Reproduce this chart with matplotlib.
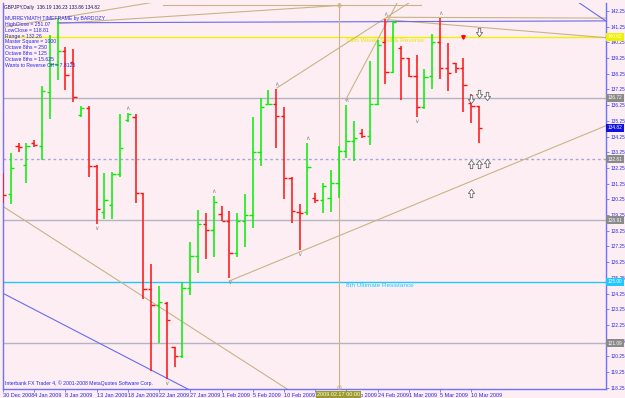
"""GBPJPY daily bar chart with Murrey Math levels (MT4 style)."""

import matplotlib

matplotlib.use("Agg")
import matplotlib.pyplot as plt
from matplotlib.path import Path

# ---- data -------------------------------------------------------------
BAR_OPEN = [131.49, 130.60, 133.66, 132.45, 133.85, 133.66, 137.10, 138.90, 139.70, 139.00,
            135.63, 136.08, 132.38, 129.46, 129.90, 131.87, 135.31, 135.50, 130.66, 124.55,
            123.54, 123.66, 120.86, 120.29, 124.62, 126.66, 128.69, 128.31, 129.33, 128.88,
            126.85, 128.88, 129.26, 133.27, 136.30, 136.33, 135.57, 131.62, 129.46, 129.46,
            130.35, 130.22, 130.35, 131.30, 133.34, 133.98, 134.48, 134.29, 136.33, 140.28,
            138.37, 139.89, 139.26, 138.11, 136.14, 138.11, 140.28, 138.62, 138.94, 138.62,
            136.39, 136.19]
BAR_HIGH = [131.94, 133.21, 133.85, 133.85, 134.04, 137.48, 140.72, 141.80, 139.96, 139.83,
            136.20, 136.20, 132.45, 131.94, 132.00, 135.69, 135.76, 135.69, 130.66, 126.15,
            124.75, 123.73, 120.86, 125.00, 127.55, 129.58, 129.39, 130.47, 129.84, 129.52,
            129.39, 130.60, 135.50, 136.71, 137.22, 137.29, 136.14, 131.68, 129.96, 133.85,
            130.66, 131.30, 132.13, 133.66, 136.27, 135.25, 134.74, 139.07, 140.40, 141.74,
            141.61, 140.02, 139.26, 139.45, 138.56, 140.79, 141.80, 140.21, 138.94, 139.26,
            136.97, 136.23]
BAR_LOW = [130.03, 129.96, 133.27, 131.30, 133.59, 132.77, 135.38, 137.86, 137.22, 136.46,
           135.50, 131.68, 128.69, 129.01, 129.01, 131.68, 135.18, 130.03, 123.92, 119.34,
           121.12, 118.83, 119.59, 120.16, 124.17, 125.57, 126.46, 126.59, 128.88, 125.25,
           126.59, 127.23, 128.43, 132.38, 136.30, 133.53, 130.28, 128.76, 127.04, 129.26,
           130.03, 129.39, 129.46, 130.35, 132.89, 132.70, 134.17, 133.72, 136.27, 137.60,
           138.30, 136.58, 138.05, 135.50, 136.01, 137.29, 137.92, 137.16, 138.30, 135.82,
           135.12, 133.86]
BAR_CLOSE = [130.54, 132.26, 133.59, 133.66, 133.72, 137.16, 138.90, 139.70, 138.18, 136.78,
             136.08, 132.38, 129.65, 130.22, 131.87, 133.53, 135.69, 130.66, 124.55, 123.54,
             123.73, 122.58, 120.29, 124.62, 126.66, 128.69, 128.31, 130.09, 128.88, 126.85,
             128.88, 129.26, 133.27, 136.14, 136.35, 135.57, 131.62, 129.52, 129.40, 132.32,
             130.22, 131.11, 131.30, 133.34, 133.98, 134.17, 134.29, 136.33, 140.09, 138.37,
             141.55, 139.26, 138.11, 136.14, 138.05, 140.28, 138.62, 138.30, 138.62, 137.54,
             136.20, 134.82]

DATE_TICKS = [0, 4, 8, 12, 16, 20, 24, 28, 32, 36, 40, 44, 48, 52, 56, 60]
DATE_LABELS = ["30 Dec 2008", "4 Jan 2009", "8 Jan 2009", "13 Jan 2009", "18 Jan 2009",
               "22 Jan 2009", "27 Jan 2009", "1 Feb 2009", "5 Feb 2009", "10 Feb 2009",
               "15 Feb 2009", "19 Feb 2009", "24 Feb 2009", "1 Mar 2009", "5 Mar 2009",
               "10 Mar 2009"]
PRICE_TICKS = [118.25, 119.25, 120.25, 121.25, 122.25, 123.25, 124.25, 125.25, 126.25,
               127.25, 128.25, 129.25, 130.25, 131.25, 132.25, 133.25, 134.25, 135.25,
               136.25, 137.25, 138.25, 139.25, 140.25, 141.25, 142.25]

# Murrey math levels: price, line colour, label box colour
MURREY_LEVELS = [140.62, 136.72, 132.81, 128.91, 125.00, 121.09]
MURREY_COLORS = ["#f0f000", "#b4b4c4", "#a8a8d8", "#b4b4c4", "#1ec8ff", "#b4b4c4"]
MURREY_STYLES = ["-", "-", (0, (2, 2)), "-", "-", "-"]
MURREY_BOX = ["#f0f000", "#8a8a8a", "#8a8a8a", "#8a8a8a", "#1ec8ff", "#8a8a8a"]

FRACTAL_UP = [16, 27, 35, 39, 44, 49, 56]
FRACTAL_DOWN = [12, 21, 29, 38, 53]

ARROW_DOWN_X = [61, 60, 61, 62]
ARROW_DOWN_Y = [140.91, 136.65, 136.97, 136.84]
ARROW_UP_X = [60, 61, 62, 60]
ARROW_UP_Y = [132.51, 132.51, 132.57, 130.66]

# trend / gann lines as (x0, y0, x1, y1) in bar index / price
TAN_LINES = [
    (0.0, 129.80, 38.5, 117.50),
    (29.0, 125.05, 77.3, 134.95),
    (35.1, 137.35, 52.6, 142.95),
    (43.9, 136.58, 50.7, 142.95),
    (-0.2, 141.20, 21.0, 142.95),
    (7.0, 141.45, 43.0, 142.60),
    (20.5, 142.62, 53.5, 142.62),
    (49.2, 141.85, 77.3, 141.80),
    (49.2, 141.70, 77.3, 140.55),
]
BLUE_LINES = [
    (7.0, 141.50, 77.3, 141.62),
    (73.3, 142.95, 77.3, 141.60),
    (0.1, 124.24, 25.5, 117.70),
]
VLINE_X = 43

BULL = "#00f000"
BEAR = "#ff1010"
BLUE_TXT = "#2828e8"
TAN = "#c8b486"
FONT = "Liberation Sans"

ARROW_DOWN = Path([(-0.3, 1.0), (0.3, 1.0), (0.3, 0.0), (0.75, 0.0), (0.0, -1.0),
                   (-0.75, 0.0), (-0.3, 0.0), (-0.3, 1.0)])
ARROW_UP = Path([(x, -y) for x, y in ARROW_DOWN.vertices])


def main() -> int:
    plt.rcParams["font.family"] = [FONT, "DejaVu Sans"]
    fig = plt.figure(figsize=(6.25, 3.98), dpi=100)
    fig.patch.set_facecolor("#fdeef4")
    ax = fig.add_axes([3 / 625, 9 / 398, 603 / 625, 386 / 398])
    ax.set_facecolor("#fdeef4")
    ax.set_xlim(0.25, 77.27)
    ax.set_ylim(118.17, 142.76)

    for x0, y0, x1, y1 in TAN_LINES:
        ax.plot([x0, x1], [y0, y1], color=TAN, lw=0.8, zorder=2)
    for x0, y0, x1, y1 in BLUE_LINES:
        ax.plot([x0, x1], [y0, y1], color="#6a6af0", lw=0.8, zorder=2)
    ax.axvline(VLINE_X, color=TAN, lw=0.8, zorder=2)
    ax.plot([VLINE_X, VLINE_X], [142.62, 118.3], ls="none", marker="o", ms=2.5,
            mfc="none", mec=TAN, mew=0.6, zorder=3)

    for level, col, ls in zip(MURREY_LEVELS, MURREY_COLORS, MURREY_STYLES):
        ax.axhline(level, color=col, lw=1.0, ls=ls, zorder=1)
    ax.text(44.0, 140.40, "16th Weak, Stall & Reverse", color="#e8e800", fontsize=4.6,
            va="center", ha="left", zorder=3)
    ax.text(44.0, 124.78, "8th Ultimate Resistance", color="#1ec8ff", fontsize=4.6,
            va="center", ha="left", zorder=3)

    # OHLC bars
    xs = range(len(BAR_OPEN))
    for i, o, h, lo, c in zip(xs, BAR_OPEN, BAR_HIGH, BAR_LOW, BAR_CLOSE):
        col = BULL if c >= o else BEAR
        ax.vlines(i, lo, h, color=col, lw=1.1, zorder=4)
        ax.hlines(o, i - 0.42, i, color=col, lw=1.0, zorder=4)
        ax.hlines(c, i, i + 0.42, color=col, lw=1.0, zorder=4)

    for i in FRACTAL_UP:
        ax.annotate("\u2227", (i, BAR_HIGH[i]), xytext=(0, 3.5), textcoords="offset points",
                    ha="center", va="center", fontsize=4.5, color="#8c8c8c", zorder=5,
                    family="DejaVu Sans")
    for i in FRACTAL_DOWN:
        ax.annotate("\u2228", (i, BAR_LOW[i]), xytext=(0, -3.5), textcoords="offset points",
                    ha="center", va="center", fontsize=4.5, color="#8c8c8c", zorder=5,
                    family="DejaVu Sans")
    ax.plot(ARROW_DOWN_X, ARROW_DOWN_Y, ls="none", marker=ARROW_DOWN, ms=6,
            mfc="white", mec="#6a6a6a", mew=0.6, zorder=5)
    ax.plot(ARROW_UP_X, ARROW_UP_Y, ls="none", marker=ARROW_UP, ms=6,
            mfc="white", mec="#6a6a6a", mew=0.6, zorder=5)
    ax.plot([59], [140.59], ls="none", marker="v", ms=2.5, color="red", zorder=5)

    # axes cosmetics
    for side in ("left", "right", "bottom"):
        ax.spines[side].set_color("#7070ff")
        ax.spines[side].set_linewidth(1.0)
    ax.spines["top"].set_visible(False)
    ax.yaxis.tick_right()
    ax.set_yticks(PRICE_TICKS)
    ax.set_yticklabels([f"{p:.2f}" for p in PRICE_TICKS])
    ax.set_xticks(DATE_TICKS)
    ax.set_xticklabels(DATE_LABELS)
    ax.tick_params(axis="y", colors="#7070ff", labelcolor=BLUE_TXT, labelsize=3.4, length=2,
                   width=0.6, pad=1.2)
    ax.tick_params(axis="x", colors="#7070ff", labelcolor=BLUE_TXT, labelsize=4, length=2,
                   width=0.6, pad=0.8)
    for lab in ax.get_xticklabels():
        lab.set_horizontalalignment("left")

    # price boxes on the right scale
    for level, bg in zip(MURREY_LEVELS, MURREY_BOX):
        ax.annotate(f"{level:.2f}", (1.0, level), xycoords=("axes fraction", "data"),
                    xytext=(1.2, 0), textcoords="offset points", ha="left", va="center",
                    fontsize=3.4, color="white",
                    bbox=dict(boxstyle="square,pad=0.3", fc=bg, ec="none"),
                    annotation_clip=False, zorder=6)
    ax.annotate(f"{BAR_CLOSE[-1]:.2f}", (1.0, BAR_CLOSE[-1]), xycoords=("axes fraction", "data"),
                xytext=(1.2, 0), textcoords="offset points", ha="left", va="center",
                fontsize=3.4, color="white",
                bbox=dict(boxstyle="square,pad=0.3", fc="#1010e0", ec="none"),
                annotation_clip=False, zorder=6)
    ax.annotate("2009.02.17 00:00", (VLINE_X, 0), xycoords=("data", "axes fraction"),
                xytext=(0, -4.3), textcoords="offset points", ha="center", va="center",
                fontsize=4, color="#ffffe0",
                bbox=dict(boxstyle="square,pad=0.2", fc="#9a9a30", ec="none"),
                annotation_clip=False, zorder=6)

    # info block
    info = [
        "MURREYMATH TIMEFRAME by BARDOZY",
        "HighClose = 251.07",
        "LowClose = 118.81",
        "Range = 132.26",
        "Master Square = 1000",
        "Octave 8ths = 250",
        "Octave 8ths = 125",
        "Octave 8ths = 15.625",
        "Wants to Reverse Off = 7.8125",
    ]
    ax.text(0.002, 0.988, "GBPJPY,Daily  136.19 136.23 133.86 134.82", transform=ax.transAxes,
            fontsize=3.4, color="#101060", va="center", ha="left", zorder=6)
    for k, line in enumerate(info):
        ax.text(0.004, 0.960 - k * 0.0152, line, transform=ax.transAxes, fontsize=3.7,
                color=BLUE_TXT, va="center", ha="left", zorder=6)
    ax.text(0.004, 0.015, "Interbank FX Trader 4, \u00a9 2001-2008 MetaQuotes Software Corp.",
            transform=ax.transAxes, fontsize=3.7, color=BLUE_TXT, va="center", ha="left", zorder=6)

    fig.savefig("out.png", dpi=100, facecolor=fig.get_facecolor())
    plt.close(fig)
    return 0


if __name__ == "__main__":
    raise SystemExit(main())
